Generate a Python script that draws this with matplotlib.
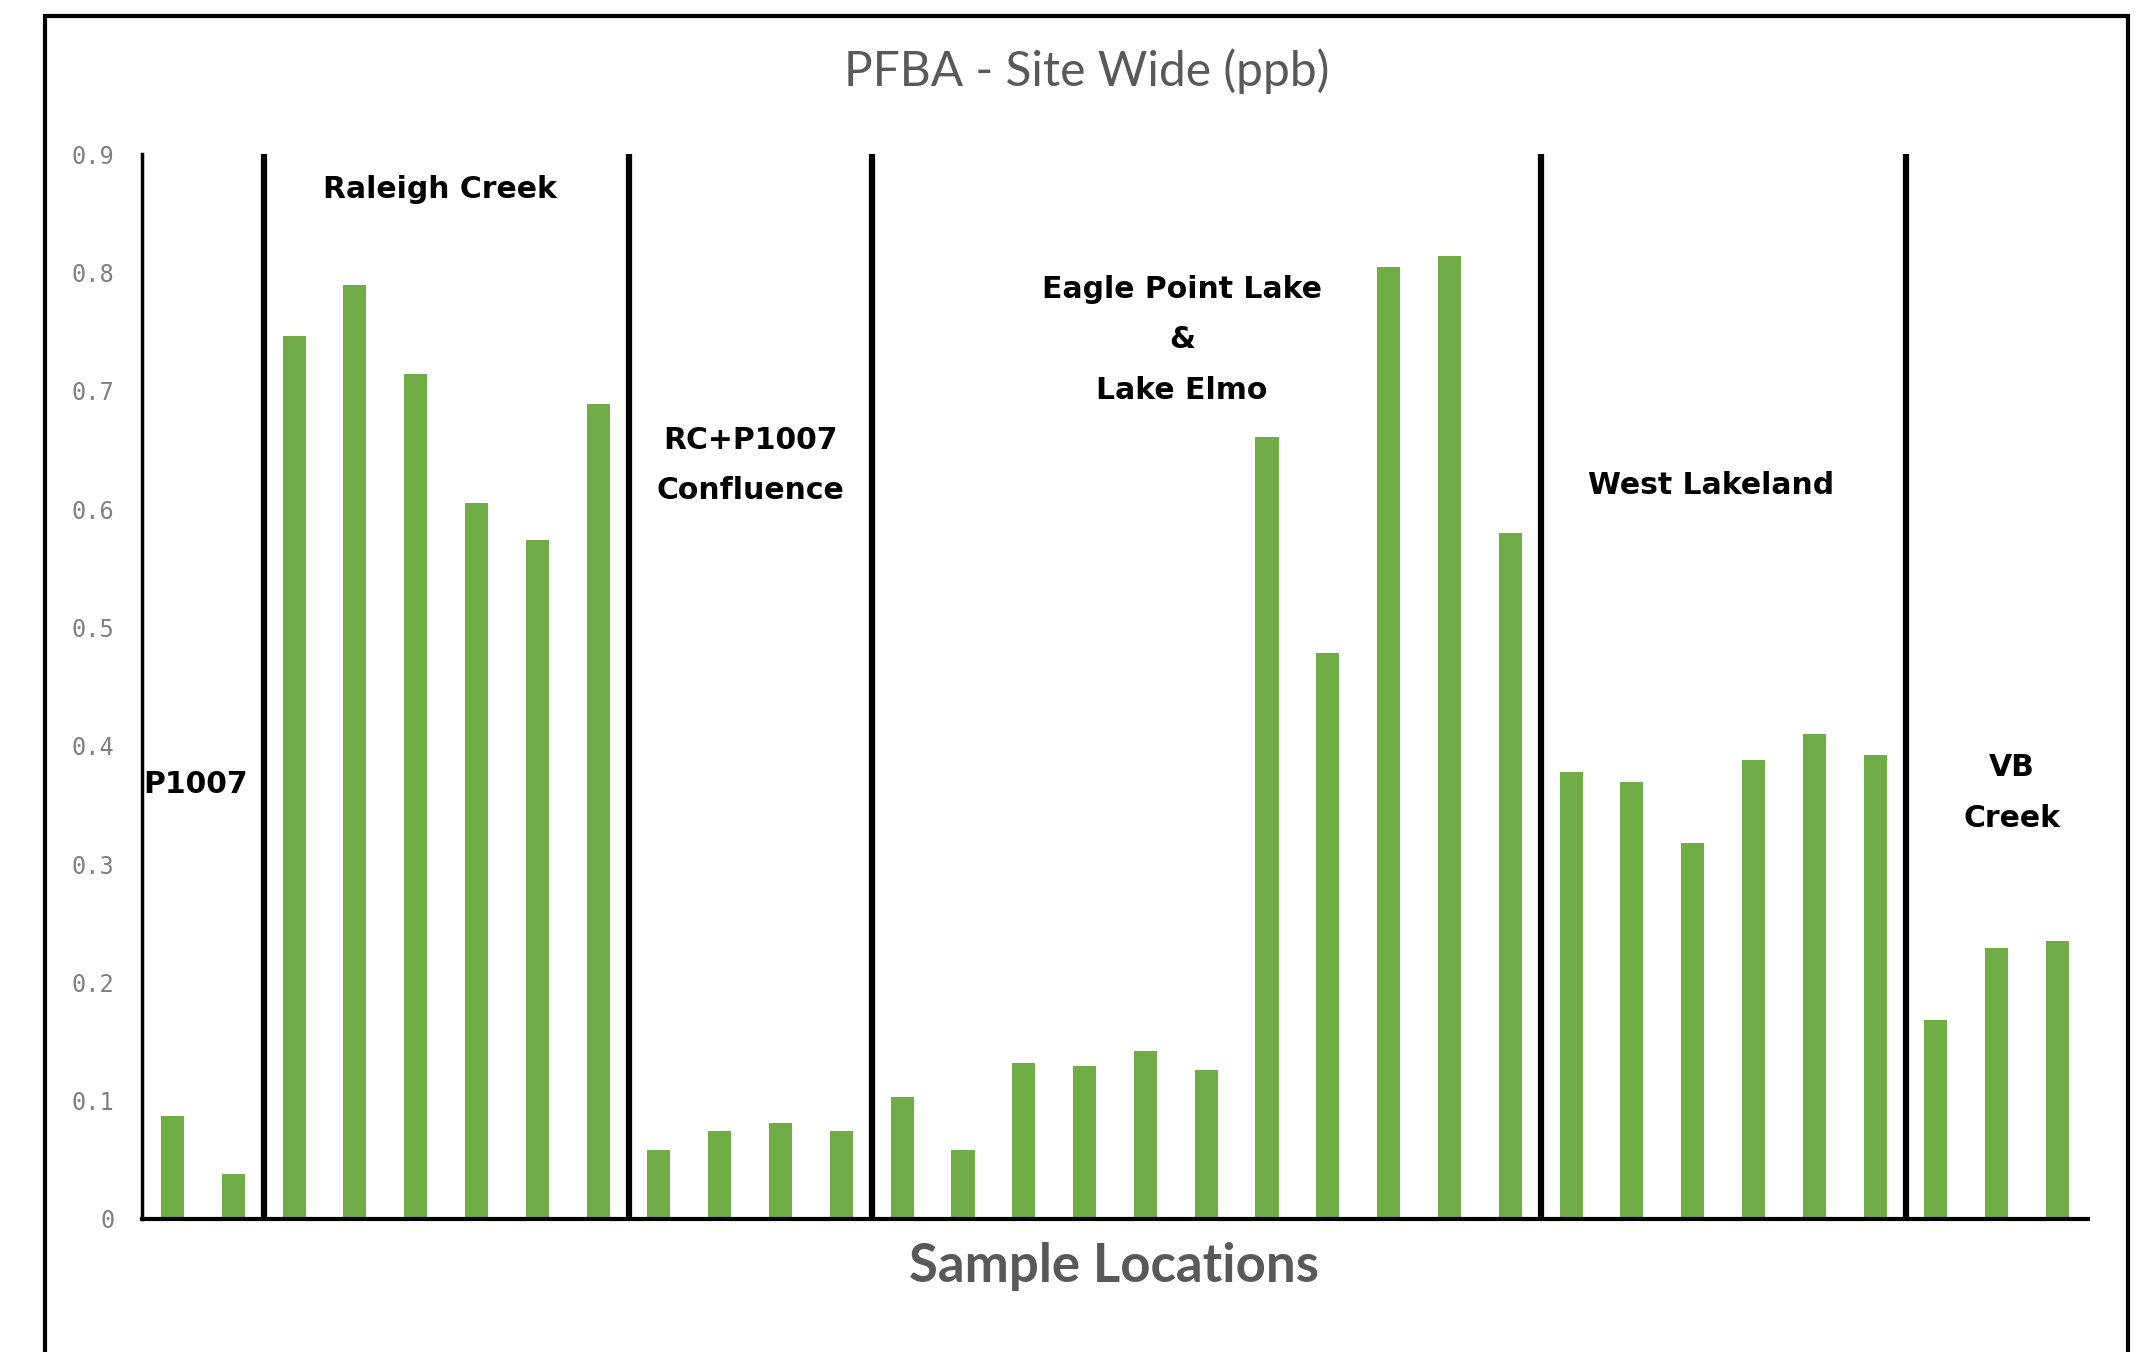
import numpy as np
import matplotlib.pyplot as plt
from matplotlib.patches import Rectangle

# PFBA results per sampling area (ppb)
group_names = ["P1007", "Raleigh Creek", "RC+P1007\nConfluence",
               "Eagle Point Lake\n&\nLake Elmo", "West Lakeland", "VB\nCreek"]
p1007 = [0.087, 0.038]
raleigh_creek = [0.746, 0.789, 0.714, 0.605, 0.574, 0.689]
confluence = [0.058, 0.074, 0.081, 0.074]
eagle_point_elmo = [0.103, 0.058, 0.132, 0.129, 0.142, 0.126,
                    0.661, 0.478, 0.805, 0.814, 0.580]
west_lakeland = [0.378, 0.369, 0.318, 0.388, 0.410, 0.392]
vb_creek = [0.168, 0.229, 0.235]

y_ticks = [0, 0.1, 0.2, 0.3, 0.4, 0.5, 0.6, 0.7, 0.8, 0.9]
y_tick_labels = ["0", "0.1", "0.2", "0.3", "0.4", "0.5", "0.6", "0.7", "0.8", "0.9"]

# where each group name sits (x in bar index units, y in ppb)
name_x = [0.38, 4.4, 9.5, 16.6, 25.3, 30.25]
name_y = [0.367, 0.870, 0.637, 0.743, 0.620, 0.360]

groups = [p1007, raleigh_creek, confluence, eagle_point_elmo, west_lakeland, vb_creek]
values = np.concatenate(groups)
x = np.arange(len(values))
bounds = np.cumsum([len(g) for g in groups])[:-1] - 0.5

fig = plt.figure(figsize=(21.43, 13.52), dpi=100)
ax = fig.add_axes([0.0663, 0.0984, 0.908, 0.7876])

ax.bar(x, values, width=0.38, color="#70AD47")
ax.vlines(bounds, 0, 0.9, color="black", lw=4.5)

ax.set_xlim(-0.5, len(values) - 0.5)
ax.set_ylim(0, 0.9)
ax.set_yticks(y_ticks)
ax.set_yticklabels(y_tick_labels, color="#808080", fontsize=17,
                   family="DejaVu Sans Mono")
ax.set_xticks([])
ax.tick_params(axis="y", length=0, pad=20)

for side in ["top", "right"]:
    ax.spines[side].set_visible(False)
ax.spines["left"].set_linewidth(2.5)
ax.spines["bottom"].set_linewidth(3)
ax.spines["left"].set_color("black")
ax.spines["bottom"].set_color("black")

for name, nx, ny in zip(group_names, name_x, name_y):
    ax.text(nx, ny, name, ha="center", va="center", fontsize=21.5,
            fontweight="bold", color="black", linespacing=1.93)

fig.text(0.507, 0.947, "PFBA - Site Wide (ppb)", ha="center", va="center",
         fontsize=34.5, color="#595959", family="Lato")
fig.text(0.52, 0.063, "Sample Locations", ha="center", va="center",
         fontsize=38, fontweight="bold", color="#595959", family="Lato")

# outer chart frame, bottom edge runs off the image
fig.patches.append(Rectangle((45 / 2143, -0.05), (2128 - 45) / 2143, 1.05 - 16 / 1352,
                             transform=fig.transFigure, fill=False,
                             edgecolor="black", lw=3))

plt.savefig("out.png", dpi=100)
